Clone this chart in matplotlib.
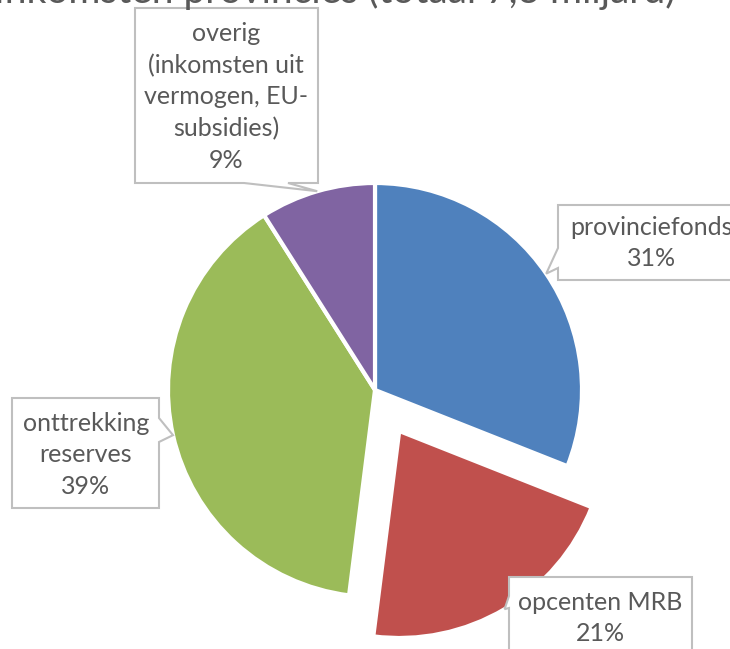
import numpy as np
import matplotlib.pyplot as plt
from matplotlib.patches import Polygon

# Gegevens
labels = ["provinciefonds", "opcenten MRB", "onttrekking\nreserves",
          "overig\n(inkomsten uit\nvermogen, EU-\nsubsidies)"]
shares = [31, 21, 39, 9]
colors = ["#4F81BD", "#C0504D", "#9BBB59", "#8064A2"]
explode = [0, 0.23, 0, 0]  # als deel van de straal
title = "Inkomsten provincies (totaal 7,3 miljard)"

W, H = 730, 649
TXT = "#595959"
plt.rcParams['font.family'] = ['Lato', 'DejaVu Sans']


def Y(y):  # beeld-y (van boven) naar data-y
    return H - y


fig = plt.figure(figsize=(W / 100, H / 100), dpi=100)
ax = fig.add_axes([0, 0, 1, 1])

center = (375, Y(390))
radius = 207
# explode werkt in data-eenheden, dus schalen met de straal
wedges, _ = ax.pie(shares, colors=colors, explode=[e * radius for e in explode],
                   startangle=90, counterclock=False, center=center, radius=radius,
                   wedgeprops=dict(edgecolor="white", linewidth=3))
ax.set_xlim(0, W)
ax.set_ylim(0, H)
ax.set_aspect('equal')
ax.axis('off')


def tip_of(w):  # punt op de rand midden in het segment
    t = np.deg2rad((w.theta1 + w.theta2) / 2)
    cx, cy = w.center
    return cx + w.r * np.cos(t), cy + w.r * np.sin(t)


def callout(box, side, base, tip, text, cx, cy):
    x0, y0, x1, y1 = box  # beeldcoordinaten
    b0, b1 = base
    if side == "bottom":
        pts = [(x0, y0), (x1, y0), (x1, y1), (b1, y1), tip, (b0, y1), (x0, y1)]
    elif side == "left":
        pts = [(x0, y0), (x1, y0), (x1, y1), (x0, y1), (x0, b1), tip, (x0, b0)]
    else:  # right
        pts = [(x0, y0), (x1, y0), (x1, b0), tip, (x1, b1), (x1, y1), (x0, y1)]
    pts = [(p[0], Y(p[1])) if p is not tip else p for p in pts]
    ax.add_patch(Polygon(pts, closed=True, facecolor="white",
                         edgecolor="#BFBFBF", linewidth=1.5, zorder=3))
    ax.text(cx, Y(cy), text, ha="center", va="center", color=TXT,
            fontsize=18, linespacing=1.45, zorder=4)


pct = [f"{s}%" for s in shares]
callout((558, 205, 748, 280), "left", (248, 268), tip_of(wedges[0]),
        labels[0] + "\n" + pct[0], 652, 243)
callout((509, 577, 692, 672), "left", (596, 608), tip_of(wedges[1]),
        labels[1] + "\n" + pct[1], 600, 618)
callout((12, 398, 159, 508), "right", (418, 442), tip_of(wedges[2]),
        labels[2] + "\n" + pct[2], 86, 455)
callout((135, 8, 318, 183), "bottom", (244, 288), tip_of(wedges[3]),
        labels[3] + "\n" + pct[3], 226, 97)

# titel valt grotendeels buiten beeld, alleen de onderkant is zichtbaar
fig.text(676 / W, 1 - 3 / H, title, ha="right", va="baseline",
         color=TXT, fontsize=28)

fig.savefig("out.png", dpi=100)
